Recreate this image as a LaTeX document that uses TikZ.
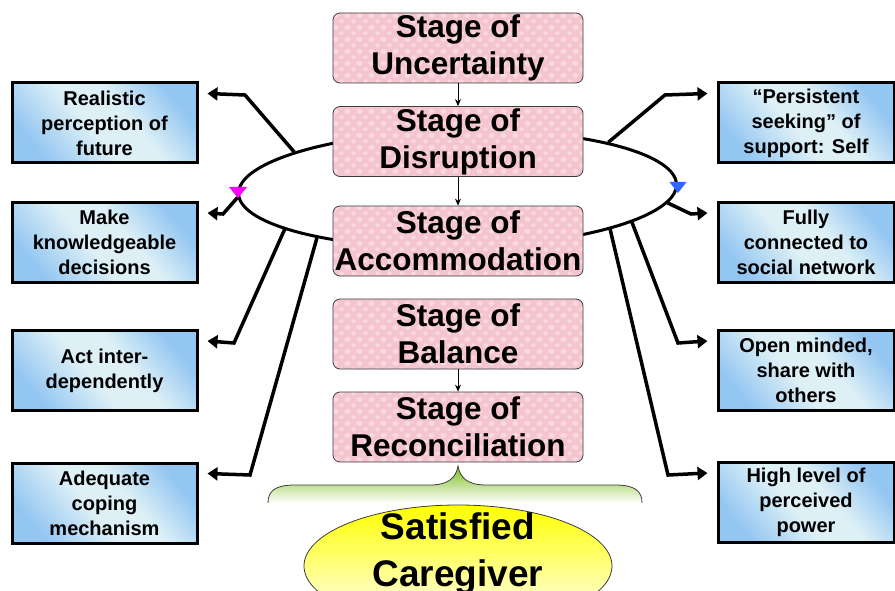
\documentclass[tikz,border=0pt]{standalone}
\usepackage{fontspec}
\setmainfont{Liberation Sans}
\usetikzlibrary{arrows.meta,shapes.geometric,patterns.meta}

\definecolor{stagepink}{HTML}{F4C4CF}
\definecolor{diamondpink}{HTML}{F9D9E0}
\definecolor{stageedge}{HTML}{3C3C3C}
\definecolor{boxblue}{HTML}{94C6F2}
\definecolor{boxlight}{HTML}{DDF0F6}
\definecolor{bracegreen}{HTML}{7DBE1E}
\definecolor{markmagenta}{HTML}{FF00FF}
\definecolor{markblue}{HTML}{3366FF}

\pgfdeclarehorizontalshading{bluesheen}{100bp}{%
  color(0bp)=(boxblue); color(25bp)=(boxblue); color(45bp)=(boxlight);
  color(58bp)=(boxlight); color(75bp)=(boxblue); color(100bp)=(boxblue)}

% light diamonds on the stage boxes, staggered row by row
\tikzdeclarepattern{
  name=pinkdiamonds,
  type=colored,
  bottom left={(0pt,0pt)},
  top right={(12pt,12pt)},
  tile size={(12pt,12pt)},
  code={
    \fill[diamondpink] (6pt,3.5pt) -- (9pt,6pt) -- (6pt,8.5pt) -- (3pt,6pt) -- cycle;
    \fill[diamondpink] (0pt,-2.5pt) -- (3pt,0pt) -- (0pt,2.5pt) -- (-3pt,0pt) -- cycle;
    \fill[diamondpink] (12pt,-2.5pt) -- (15pt,0pt) -- (12pt,2.5pt) -- (9pt,0pt) -- cycle;
    \fill[diamondpink] (0pt,9.5pt) -- (3pt,12pt) -- (0pt,14.5pt) -- (-3pt,12pt) -- cycle;
    \fill[diamondpink] (12pt,9.5pt) -- (15pt,12pt) -- (12pt,14.5pt) -- (9pt,12pt) -- cycle;
  }
}

\begin{document}
\begin{tikzpicture}[x=1pt,y=-1pt,
  stagebox/.style={preaction={fill=stagepink}, pattern=pinkdiamonds,
    draw=stageedge, line width=0.8pt,
    rounded corners=7pt, minimum width=250pt, minimum height=70pt,
    inner sep=0pt, align=center, font=\fontsize{31.5}{37}\selectfont\bfseries},
  outcome/.style={draw=black, line width=3pt, shade, shading=bluesheen,
    shading angle=40, minimum height=80pt, inner sep=0pt, align=center,
    font=\fontsize{20}{25}\selectfont\bfseries},
  leftbox/.style={outcome, minimum width=185pt},
  rightbox/.style={outcome, minimum width=176pt},
  flow/.style={line width=0.8pt, -{Stealth[length=7pt,width=6pt]}},
  link/.style={line width=3.5pt, -{Triangle[length=10pt,width=13pt]}},
]
\useasboundingbox (0,0) rectangle (895,591);

% the ring gathering the early stages
\node[draw, line width=3pt, fill=white, ellipse, rotate=1.2, minimum width=438pt,
      minimum height=117pt, inner sep=0pt] (ring) at (457.5,189) {};

% outcomes on the left
\node[leftbox] (lo1) at (104.5,123)   {Realistic\\perception of\\future};
\node[leftbox] (lo2) at (104.5,242.5) {Make\\knowledgeable\\decisions};
\node[leftbox] (lo3) at (104.5,370.5) {Act inter-\\dependently};
\node[leftbox] (lo4) at (104.5,503)   {Adequate\\coping\\mechanism};

% outcomes on the right
\node[rightbox] (ro1) at (806,123)   {“Persistent\\seeking” of\\support: Self};
\node[rightbox] (ro2) at (806,242.5) {Fully\\connected to\\social network};
\node[rightbox] (ro3) at (806,370.5) {Open minded,\\share with\\others};
\node[rightbox] (ro4) at (806,502.5) {High level of\\perceived\\power};

% links from the ring to the outcomes
\draw[link] (ring.166) -- (245,95)  -- ([xshift=9pt,yshift=-12pt]lo1.north east);
\draw[link] (ring.181) -- (223,214) -- ([xshift=9pt,yshift=-12pt]lo2.north east);
\draw[link] (ring.192) -- (234,343) -- ([xshift=9pt,yshift=-12pt]lo3.north east);
\draw[link] (ring.198) -- (250,475) -- ([xshift=9pt,yshift=-12pt]lo4.north east);
\draw[link] (ring.16)    -- (665,95)  -- ([xshift=-9pt,yshift=-12pt]ro1.north west);
\draw[link] (ring.-5)    -- (691,214) -- ([xshift=-9pt,yshift=-12pt]ro2.north west);
\draw[link] (ring.-12)   -- (678,343) -- ([xshift=-9pt,yshift=-12pt]ro3.north west);
\draw[link] (ring.-16)   -- (668,475) -- ([xshift=-9pt,yshift=-12pt]ro4.north west);

% the stages
\node[stagebox] (unc) at (458,48)    {Stage of\\Uncertainty};
\node[stagebox] (dis) at (458,141.5) {Stage of\\Disruption};
\node[stagebox] (acc) at (458,241)   {Stage of\\Accommodation};
\node[stagebox] (bal) at (458,334)   {Stage of\\Balance};
\node[stagebox] (rec) at (458,427)   {Stage of\\Reconciliation};

\draw[flow] (unc.south) -- (dis.north);
\draw[flow] (dis.south) -- (acc.north);
\draw[flow] (bal.south) -- (rec.north);

% markers on the ring
\fill[markmagenta] (229,187) -- (247,187) -- (238,198) -- cycle;
\fill[markblue] (669.5,182) -- (686.5,182) -- (678,193) -- cycle;

% brace under the last stage
\shade[top color=bracegreen, middle color=bracegreen!80!white, bottom color=white]
  (268,503) .. controls (268,491) and (275,485) .. (295,485) -- (430,485)
  .. controls (448,485) and (456,478) .. (458,466)
  .. controls (460,478) and (468,485) .. (486,485) -- (615,485)
  .. controls (635,485) and (642,491) .. (642,503) -- cycle;
\draw[stageedge, line width=0.8pt]
  (268,503) .. controls (268,491) and (275,485) .. (295,485) -- (430,485)
  .. controls (448,485) and (456,478) .. (458,466)
  .. controls (460,478) and (468,485) .. (486,485) -- (615,485)
  .. controls (635,485) and (642,491) .. (642,503);

% the goal
\node[ellipse, draw=stageedge, line width=0.8pt, top color=yellow,
      middle color=yellow!45!white, bottom color=white, minimum width=308pt,
      minimum height=122pt, inner sep=0pt] (goal) at (458,566) {};
\node[font=\fontsize{37}{47}\selectfont\bfseries, align=center]
  (goaltext) at (458,554) {Satisfied\\Caregiver};
\end{tikzpicture}
\end{document}
